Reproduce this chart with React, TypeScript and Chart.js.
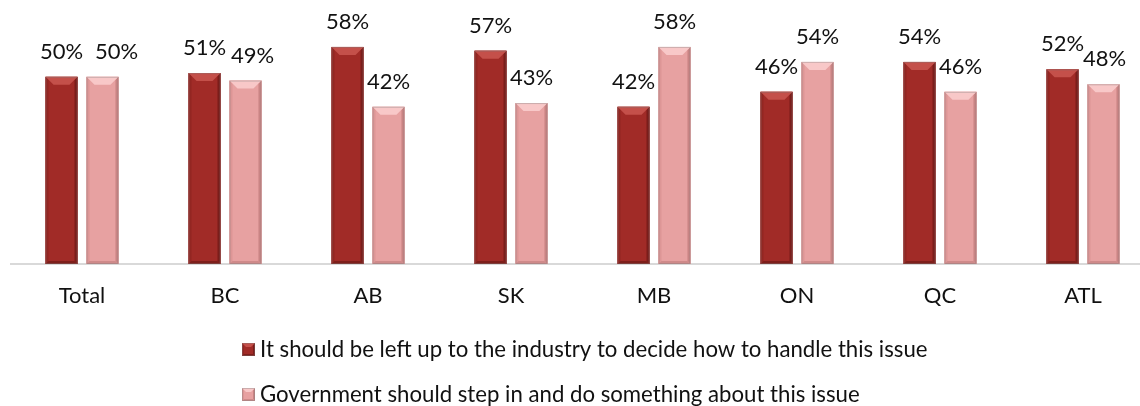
import React, { useEffect, useRef } from "react";
import { Chart, registerables } from "chart.js";

Chart.register(...registerables);

// ---------- data ----------
const categories = ["Total", "BC", "AB", "SK", "MB", "ON", "QC", "ATL"];
const industryValues = [50, 51, 58, 57, 42, 46, 54, 52];
const governmentValues = [50, 49, 42, 43, 58, 54, 46, 48];
const seriesLabels = [
  "It should be left up to the industry to decide how to handle this issue",
  "Government should step in and do something about this issue",
];

// ---------- styles ----------
const FONT = "Lato";
const palettes = [
  { base: "#a12b27", top: "#c4504a", left: "#932622", right: "#7b1d1a", bottom: "#7e1f1b" },
  { base: "#e7a1a1", top: "#f8c8c8", left: "#dd9696", right: "#c98484", bottom: "#cf8a8a" },
];
// horizontal nudges for value labels that would collide (style only)
const labelNudge = [
  [0, 0, 0, 0, 0, 0, 0, 0],
  [14, 7, 0, 0, 0, 0, 0, 1],
];

function poly(ctx: CanvasRenderingContext2D, color: string, pts: number[][]) {
  ctx.fillStyle = color;
  ctx.beginPath();
  ctx.moveTo(pts[0][0], pts[0][1]);
  for (let i = 1; i < pts.length; i++) ctx.lineTo(pts[i][0], pts[i][1]);
  ctx.closePath();
  ctx.fill();
}

function drawBevel(ctx: CanvasRenderingContext2D, l: number, t: number, r: number, b: number, p: any, bv: number, sd: number) {
  ctx.save();
  ctx.fillStyle = p.base;
  ctx.fillRect(l, t, r - l, b - t);
  poly(ctx, p.left, [[l, t], [l + sd, t + sd], [l + sd, b - sd], [l, b]]);
  poly(ctx, p.right, [[r, t], [r - sd, t + sd], [r - sd, b - sd], [r, b]]);
  poly(ctx, p.bottom, [[l, b], [l + sd, b - sd], [r - sd, b - sd], [r, b]]);
  poly(ctx, p.top, [[l, t], [r, t], [r - bv, t + bv], [l + bv, t + bv]]);
  ctx.strokeStyle = "rgba(120,120,120,0.35)";
  ctx.lineWidth = 1;
  ctx.strokeRect(l + 0.5, t + 0.5, r - l - 1, b - t - 1);
  ctx.restore();
}

const bevelPlugin = {
  id: "bevelBars",
  afterDatasetsDraw(chart: any) {
    const ctx = chart.ctx;
    chart.data.datasets.forEach((ds: any, di: number) => {
      const meta = chart.getDatasetMeta(di);
      meta.data.forEach((el: any) => {
        const { x, y, base, width } = el.getProps(["x", "y", "base", "width"], true);
        drawBevel(ctx, x - width / 2, y, x + width / 2, base, palettes[di], 8, 3);
      });
    });
  },
};

const valueLabelPlugin = {
  id: "valueLabels",
  afterDatasetsDraw(chart: any) {
    const ctx = chart.ctx;
    ctx.save();
    ctx.font = `22px ${FONT}`;
    ctx.fillStyle = "#111";
    ctx.textAlign = "center";
    ctx.textBaseline = "middle";
    chart.data.datasets.forEach((ds: any, di: number) => {
      const meta = chart.getDatasetMeta(di);
      meta.data.forEach((el: any, i: number) => {
        const { x, y } = el.getProps(["x", "y"], true);
        ctx.fillText(`${ds.data[i]}%`, x + labelNudge[di][i], y - 25);
      });
    });
    ctx.restore();
  },
};

const legendPlugin = {
  id: "stackedLegend",
  afterDraw(chart: any) {
    const ctx = chart.ctx;
    const rows = [350, 395];
    ctx.save();
    ctx.font = `22.2px ${FONT}`;
    ctx.textAlign = "left";
    ctx.textBaseline = "middle";
    chart.data.datasets.forEach((ds: any, di: number) => {
      const cy = rows[di];
      drawBevel(ctx, 242, cy - 7, 255, cy + 6, palettes[di], 4, 2);
      ctx.fillStyle = "#111";
      ctx.fillText(ds.label, 260, cy);
    });
    ctx.restore();
  },
};

export default function App() {
  const ref = useRef<HTMLCanvasElement | null>(null);
  useEffect(() => {
    if (!ref.current) return;
    const chart = new Chart(ref.current, {
      type: "bar",
      data: {
        labels: categories,
        datasets: [
          { label: seriesLabels[0], data: industryValues, backgroundColor: palettes[0].base, borderWidth: 0 },
          { label: seriesLabels[1], data: governmentValues, backgroundColor: palettes[1].base, borderWidth: 0 },
        ],
      },
      options: {
        responsive: false,
        animation: false,
        events: [],
        layout: { padding: { left: 10.5, right: 5.5, top: 2, bottom: 0 } },
        datasets: { bar: { categoryPercentage: 0.573, barPercentage: 0.78 } },
        plugins: { legend: { display: false }, tooltip: { enabled: false } },
        scales: {
          x: {
            grid: { display: false, drawTicks: false },
            border: { display: true, color: "#d9d9d9", width: 2 },
            ticks: { color: "#111", font: { family: FONT, size: 22 }, padding: 19, maxRotation: 0, autoSkip: false },
            afterFit: (scale: any) => { scale.height = 142; },
          },
          y: { display: false, min: 0, max: 70 },
        },
      },
      plugins: [bevelPlugin, valueLabelPlugin, legendPlugin],
    });
    return () => chart.destroy();
  }, []);
  return (
    <div style={{ position: "fixed", left: 0, top: 0, width: 1140, height: 406, overflow: "hidden", background: "#fff" }}>
      <canvas ref={ref} width={1160} height={406} style={{ display: "block", width: 1160, height: 406 }} />
    </div>
  );
}
